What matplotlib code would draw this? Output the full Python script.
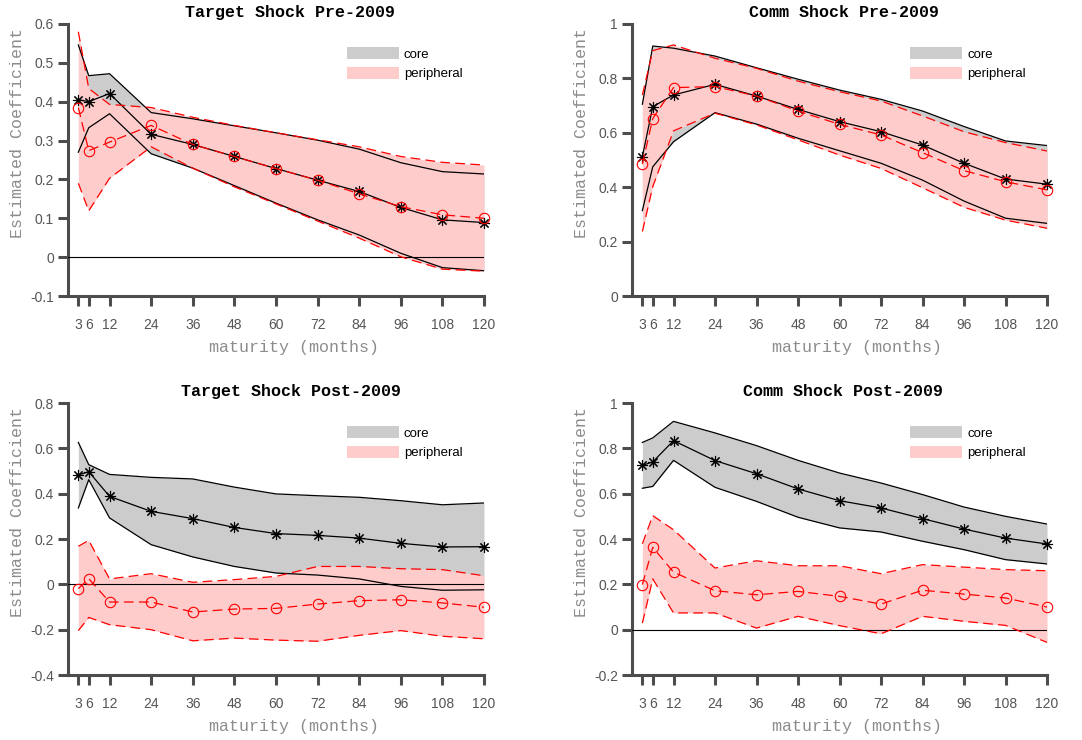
import numpy as np
import matplotlib
matplotlib.use("Agg")
import matplotlib.pyplot as plt
from matplotlib.patches import Patch

plt.rcParams['lines.scale_dashes'] = False

maturity = [3, 6, 12, 24, 36, 48, 60, 72, 84, 96, 108, 120]
xtick_labels = ['3', '6', '12', '24', '36', '48', '60', '72', '84', '96', '108', '120']

# Target shock, pre-2009
tpre_core = [0.405, 0.400, 0.421, 0.316, 0.290, 0.259, 0.228, 0.198, 0.169, 0.128, 0.096, 0.089]
tpre_core_hi = [0.546, 0.467, 0.472, 0.372, 0.356, 0.338, 0.320, 0.301, 0.278, 0.243, 0.220, 0.214]
tpre_core_lo = [0.270, 0.333, 0.369, 0.266, 0.229, 0.184, 0.139, 0.096, 0.057, 0.010, -0.027, -0.035]
tpre_peri = [0.385, 0.274, 0.296, 0.339, 0.290, 0.259, 0.228, 0.198, 0.163, 0.130, 0.109, 0.100]
tpre_peri_hi = [0.580, 0.434, 0.393, 0.385, 0.360, 0.339, 0.320, 0.302, 0.284, 0.259, 0.244, 0.237]
tpre_peri_lo = [0.190, 0.119, 0.203, 0.284, 0.229, 0.181, 0.137, 0.093, 0.049, 0.001, -0.031, -0.036]

# Comm shock, pre-2009
cpre_core = [0.512, 0.696, 0.739, 0.778, 0.735, 0.686, 0.641, 0.604, 0.555, 0.488, 0.430, 0.411]
cpre_core_hi = [0.705, 0.919, 0.911, 0.882, 0.839, 0.797, 0.757, 0.723, 0.680, 0.623, 0.570, 0.553]
cpre_core_lo = [0.314, 0.475, 0.567, 0.674, 0.632, 0.580, 0.534, 0.488, 0.426, 0.349, 0.286, 0.267]
cpre_peri = [0.485, 0.652, 0.766, 0.770, 0.735, 0.680, 0.631, 0.592, 0.527, 0.461, 0.420, 0.390]
cpre_peri_hi = [0.739, 0.902, 0.923, 0.874, 0.837, 0.790, 0.751, 0.717, 0.662, 0.604, 0.564, 0.533]
cpre_peri_lo = [0.237, 0.402, 0.607, 0.672, 0.629, 0.574, 0.518, 0.469, 0.398, 0.326, 0.279, 0.249]

# Target shock, post-2009
tpost_core = [0.482, 0.497, 0.388, 0.322, 0.290, 0.251, 0.224, 0.216, 0.204, 0.181, 0.165, 0.166]
tpost_core_hi = [0.626, 0.528, 0.485, 0.472, 0.465, 0.429, 0.399, 0.391, 0.384, 0.369, 0.351, 0.359]
tpost_core_lo = [0.337, 0.462, 0.293, 0.175, 0.121, 0.079, 0.050, 0.041, 0.024, -0.009, -0.026, -0.024]
tpost_peri = [-0.019, 0.025, -0.078, -0.078, -0.122, -0.109, -0.106, -0.087, -0.072, -0.068, -0.082, -0.101]
tpost_peri_hi = [0.168, 0.194, 0.024, 0.047, 0.009, 0.021, 0.035, 0.079, 0.079, 0.069, 0.065, 0.038]
tpost_peri_lo = [-0.204, -0.146, -0.178, -0.200, -0.249, -0.237, -0.246, -0.251, -0.225, -0.204, -0.229, -0.240]

# Comm shock, post-2009
cpost_core = [0.725, 0.740, 0.834, 0.746, 0.688, 0.621, 0.569, 0.537, 0.490, 0.444, 0.404, 0.378]
cpost_core_hi = [0.826, 0.846, 0.919, 0.868, 0.812, 0.747, 0.691, 0.647, 0.596, 0.541, 0.500, 0.466]
cpost_core_lo = [0.624, 0.632, 0.747, 0.628, 0.566, 0.496, 0.449, 0.431, 0.390, 0.353, 0.309, 0.290]
cpost_peri = [0.199, 0.363, 0.254, 0.172, 0.154, 0.169, 0.147, 0.113, 0.174, 0.157, 0.140, 0.100]
cpost_peri_hi = [0.379, 0.503, 0.441, 0.272, 0.304, 0.282, 0.282, 0.247, 0.287, 0.276, 0.265, 0.260]
cpost_peri_lo = [0.029, 0.224, 0.074, 0.074, 0.007, 0.059, 0.018, -0.018, 0.059, 0.037, 0.019, -0.056]

AXCOL = '#4d4d4d'
LABCOL = '#8c8c8c'
MONO = 'Liberation Mono'
SANS = 'Liberation Sans'
ASTER = (8, 2, 0)


def draw_panel(ax, title, title_x, core, core_lo, core_hi, peri, peri_lo, peri_hi, ylim, yticks):
    ax.fill_between(maturity, core_lo, core_hi, color='#cccccc', lw=0, zorder=1)
    ax.fill_between(maturity, peri_lo, peri_hi, color='#ffcccc', lw=0, zorder=2)
    ax.axhline(0, color='k', lw=0.8, zorder=3)

    ax.plot(maturity, core_hi, color='k', lw=0.9, zorder=4)
    ax.plot(maturity, core_lo, color='k', lw=0.9, zorder=4)
    ax.plot(maturity, core, color='k', lw=0.9, marker=ASTER, ms=8, mew=0.8,
            zorder=5, clip_on=False)
    ax.plot(maturity, peri_hi, color='r', lw=0.9, ls='--', dashes=(7, 3.8), zorder=6)
    ax.plot(maturity, peri_lo, color='r', lw=0.9, ls='--', dashes=(7, 3.8), zorder=6)
    ax.plot(maturity, peri, color='r', lw=0.9, ls='--', dashes=(7, 3.8), marker='o',
            ms=7.5, mfc='none', mew=0.8, zorder=7, clip_on=False)

    ax.set_xlim(0, 120)
    ax.set_ylim(*ylim)
    ax.set_xticks(maturity)
    ax.set_xticklabels(xtick_labels)
    ax.set_yticks(yticks)
    ax.set_yticklabels(['%g' % v for v in yticks])

    for s in ['top', 'right']:
        ax.spines[s].set_visible(False)
    for s in ['left', 'bottom']:
        ax.spines[s].set_color(AXCOL)
        ax.spines[s].set_linewidth(2.2)
    ax.tick_params(direction='out', length=7, width=2.2, color=AXCOL,
                   labelcolor='#555555', labelsize=10)
    ax.tick_params(axis='x', pad=8.5)
    ax.tick_params(axis='y', pad=3)
    for lab in ax.get_xticklabels() + ax.get_yticklabels():
        lab.set_fontfamily(SANS)

    ax.text(title_x, 1.044, title, transform=ax.transAxes, ha='center', va='center',
            fontsize=12, fontweight='bold', family=MONO)
    ax.text(0.543, -0.191, 'maturity (months)', transform=ax.transAxes, ha='center',
            va='center', fontsize=12, family=MONO, color=LABCOL)
    ax.text(-0.122, 0.60, 'Estimated Coefficient', transform=ax.transAxes, ha='center',
            va='center', rotation=90, fontsize=12, family=MONO, color=LABCOL)

    handles = [Patch(facecolor='#cccccc', edgecolor='none', label='core'),
               Patch(facecolor='#ffcccc', edgecolor='none', label='peripheral')]
    ax.legend(handles=handles, loc='upper left', bbox_to_anchor=(0.67, 0.915),
              frameon=False, borderpad=0, borderaxespad=0, handlelength=3.94,
              handleheight=1.06, labelspacing=0.45, handletextpad=0.4,
              prop={'family': SANS, 'size': 9.5})


fig = plt.figure(figsize=(10.82, 7.40), dpi=100)
ax1 = fig.add_axes([0.0628, 0.60, 0.3845, 0.3676])
ax2 = fig.add_axes([0.5841, 0.60, 0.3836, 0.3676])
ax3 = fig.add_axes([0.0628, 0.0878, 0.3845, 0.3676])
ax4 = fig.add_axes([0.5841, 0.0878, 0.3836, 0.3676])

draw_panel(ax1, 'Target Shock Pre-2009', 0.534, tpre_core, tpre_core_lo, tpre_core_hi,
           tpre_peri, tpre_peri_lo, tpre_peri_hi, (-0.1, 0.6), np.round(np.arange(-0.1, 0.61, 0.1), 1))
draw_panel(ax2, 'Comm Shock Pre-2009', 0.51, cpre_core, cpre_core_lo, cpre_core_hi,
           cpre_peri, cpre_peri_lo, cpre_peri_hi, (0, 1), np.round(np.arange(0, 1.01, 0.2), 1))
draw_panel(ax3, 'Target Shock Post-2009', 0.536, tpost_core, tpost_core_lo, tpost_core_hi,
           tpost_peri, tpost_peri_lo, tpost_peri_hi, (-0.4, 0.8), np.round(np.arange(-0.4, 0.81, 0.2), 1))
draw_panel(ax4, 'Comm Shock Post-2009', 0.508, cpost_core, cpost_core_lo, cpost_core_hi,
           cpost_peri, cpost_peri_lo, cpost_peri_hi, (-0.2, 1), np.round(np.arange(-0.2, 1.01, 0.2), 1))

fig.savefig('out.png', dpi=100)
